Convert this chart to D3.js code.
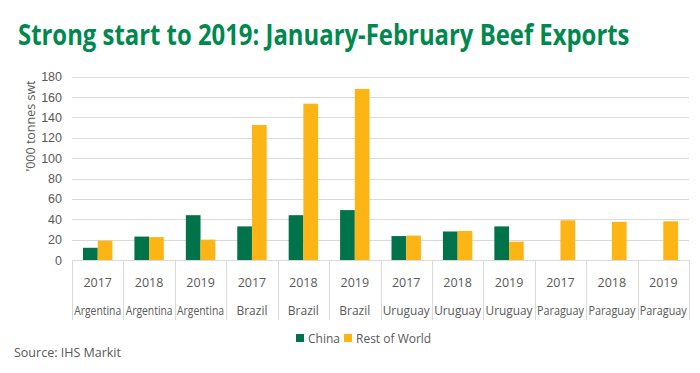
<!DOCTYPE html>
<html lang="en">
<head>
<meta charset="utf-8">
<title>Beef Exports</title>
<style>
  body { margin: 0; background: #fff; }
  svg { display: block; font-family: "Open Sans", "Noto Sans", sans-serif; }
  .tick text { fill: #595959; font-size: 12px; }
</style>
<script src="https://cdn.jsdelivr.net/npm/d3@7"></script>
</head>
<body>
<script>
// data
var years = ["2017", "2018", "2019", "2017", "2018", "2019", "2017", "2018", "2019", "2017", "2018", "2019"];
var countries = ["Argentina", "Argentina", "Argentina", "Brazil", "Brazil", "Brazil",
                 "Uruguay", "Uruguay", "Uruguay", "Paraguay", "Paraguay", "Paraguay"];
var china = [12, 23, 44, 33, 44, 49, 23.5, 28, 33, 0, 0, 0];
var restOfWorld = [19, 22.5, 20, 132.5, 153.5, 168, 24, 28.5, 18, 39, 37.5, 38];
var yTicks = [0, 20, 40, 60, 80, 100, 120, 140, 160, 180];
var seriesNames = ["China", "Rest of World"];
var colors = ["#00734a", "#fdb515"];

var width = 700, height = 373;
var plotLeft = 72, plotRight = 689, plotTop = 76.7, plotBottom = 260;

var svg = d3.select("body").append("svg")
    .attr("width", width)
    .attr("height", height);

// title - squeeze horizontally to the reference width (narrow Calibri-like look)
var title = svg.append("text")
    .style("font-size", "29px")
    .style("font-weight", "bold")
    .style("fill", "#00884f")
    .text("Strong start to 2019: January-February Beef Exports");
var tw = title.node().getComputedTextLength();
title.attr("transform", "translate(18,45) scale(" + (612 / tw) + ",1)");

var idx = d3.range(years.length);
var x = d3.scaleBand().domain(idx).range([plotLeft, plotRight]);
var x1 = d3.scaleBand().domain([0, 1]).range([0, 29.4]);
var y = d3.scaleLinear().domain([0, 180]).range([plotBottom, plotTop]);

// grid
svg.append("g").selectAll("line")
    .data(yTicks)
  .enter().append("line")
    .attr("x1", plotLeft).attr("x2", plotRight)
    .attr("y1", function(d) { return Math.round(y(d)) + 0.5; })
    .attr("y2", function(d) { return Math.round(y(d)) + 0.5; })
    .style("stroke", "#d9d9d9")
    .style("stroke-width", 1);

// y axis labels
var yAxis = svg.append("g")
    .attr("transform", "translate(" + (plotLeft - 10) + ",0)")
    .call(d3.axisLeft(y).tickValues(yTicks).tickSize(0).tickPadding(0));
yAxis.select(".domain").remove();
yAxis.selectAll("text").style("font-size", "12.5px");

svg.append("text")
    .attr("transform", "translate(35,126) rotate(-90)")
    .attr("text-anchor", "middle")
    .style("font-size", "12.5px")
    .style("fill", "#595959")
    .text("'000 tonnes swt");

// bars
var series = [china, restOfWorld];
series.forEach(function(vals, s) {
  svg.append("g").selectAll("rect")
      .data(idx.filter(function(i) { return vals[i] > 0; }))
    .enter().append("rect")
      .attr("x", function(i) { return x(i) + (x.bandwidth() - 29.4) / 2 + x1(s); })
      .attr("width", x1.bandwidth())
      .attr("y", function(i) { return y(vals[i]); })
      .attr("height", function(i) { return plotBottom - y(vals[i]); })
      .style("fill", colors[s]);
});

// category axis: dividers + two label rows
var cat = svg.append("g");
cat.append("line")
    .attr("x1", plotLeft).attr("x2", plotRight)
    .attr("y1", plotBottom + 0.5).attr("y2", plotBottom + 0.5)
    .style("stroke", "#d9d9d9");
cat.selectAll("line.div")
    .data(d3.range(years.length + 1))
  .enter().append("line")
    .attr("class", "div")
    .attr("x1", function(i) { return Math.round(plotLeft + i * x.bandwidth()) + 0.5; })
    .attr("x2", function(i) { return Math.round(plotLeft + i * x.bandwidth()) + 0.5; })
    .attr("y1", plotBottom).attr("y2", 320)
    .style("stroke", "#d9d9d9");
cat.selectAll("text.yr")
    .data(idx)
  .enter().append("text")
    .attr("class", "yr")
    .attr("x", function(i) { return x(i) + x.bandwidth() / 2; })
    .attr("y", 287)
    .attr("text-anchor", "middle")
    .style("font-size", "12.5px")
    .style("fill", "#595959")
    .text(function(i) { return years[i]; });
cat.selectAll("text.ct")
    .data(idx)
  .enter().append("text")
    .attr("class", "ct")
    .attr("x", function(i) { return x(i) + x.bandwidth() / 2; })
    .attr("y", 315)
    .attr("text-anchor", "middle")
    .style("font-size", "12px")
    .style("fill", "#595959")
    .text(function(i) { return countries[i]; })
    .each(function() {
      var w = this.getComputedTextLength();
      if (w > 47) {
        d3.select(this).attr("textLength", 47).attr("lengthAdjust", "spacingAndGlyphs");
      }
    });

// legend
var lx = [296, 344];
var leg = svg.append("g").selectAll("g")
    .data(seriesNames)
  .enter().append("g")
    .attr("transform", function(d, i) { return "translate(" + lx[i] + ",338)"; });
leg.append("rect")
    .attr("x", 0).attr("y", -4).attr("width", 8).attr("height", 8)
    .style("fill", function(d, i) { return colors[i]; });
leg.append("text")
    .attr("x", 12).attr("y", 4.5)
    .style("font-size", "12px")
    .style("fill", "#595959")
    .text(function(d) { return d; });

// source
svg.append("text")
    .attr("x", 14).attr("y", 357)
    .style("font-size", "12.5px")
    .style("fill", "#595959")
    .text("Source: IHS Markit");
</script>
</body>
</html>
